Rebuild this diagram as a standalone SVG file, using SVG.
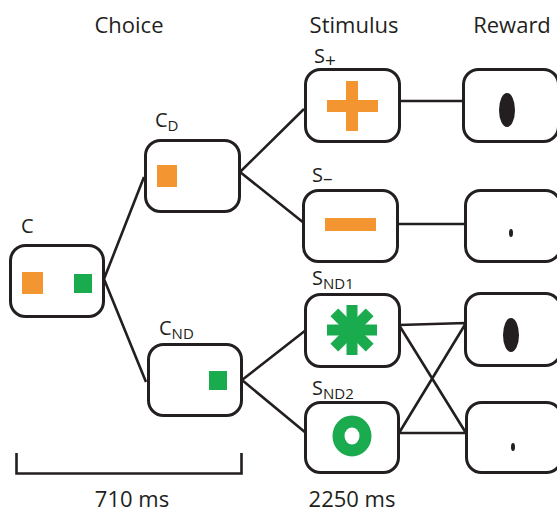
<svg xmlns="http://www.w3.org/2000/svg" width="557" height="513" viewBox="0 0 557 513">
<style>
.box{fill:#fff;stroke:#231f20;stroke-width:3}
.ln{stroke:#231f20;stroke-width:2.6;fill:none}
.hd{font-family:"Open Sans","Liberation Sans",sans-serif;font-size:22px;fill:#231f20}
.lb{font-family:"Open Sans","Liberation Sans",sans-serif;font-size:20px;fill:#231f20}
.sb{font-size:15px}
.sg{font-size:19px}
.or{fill:#f39530}
.gr{fill:#1bab4f}
.dk{fill:#231f20}
</style>
<rect width="557" height="513" fill="#fff"/>
<g id="headers">
<text class="hd" x="129" y="33" text-anchor="middle">Choice</text>
<text class="hd" x="354" y="33" text-anchor="middle">Stimulus</text>
<text class="hd" x="512" y="33" text-anchor="middle">Reward</text>
</g>
<g id="connectors">
<path class="ln" d="M104,279 L144,177 M104,279 L146,382"/>
<path class="ln" d="M240,172 L304,109 M240,172 L304,223"/>
<path class="ln" d="M242,380 L306,330 M242,380 L306,433"/>
<path class="ln" d="M399,101 L465,101 M398,224 L466,224"/>
<path class="ln" d="M399,325 L466,323 M399,325 L466,433 M399,433 L466,323 M399,433 L466,433"/>
</g>
<g id="C">
<rect class="box" x="10.5" y="245.5" width="93" height="71" rx="15"/>
<rect class="or" x="22" y="272" width="21" height="22"/>
<rect class="gr" x="74" y="274" width="18" height="19"/>
<text class="lb" x="21" y="233">C</text>
</g>
<g id="CD">
<rect class="box" x="145.5" y="140.5" width="94" height="71" rx="15"/>
<rect class="or" x="157" y="165" width="20" height="22"/>
<text class="lb" x="155" y="127">C<tspan class="sb" dy="4">D</tspan></text>
</g>
<g id="CND">
<rect class="box" x="148.5" y="344.5" width="93" height="71" rx="15"/>
<rect class="gr" x="209" y="371" width="18" height="19"/>
<text class="lb" x="159" y="335">C<tspan class="sb" dy="4">ND</tspan></text>
</g>
<g id="Splus">
<rect class="box" x="305.5" y="69.5" width="94" height="72" rx="15"/>
<rect class="or" x="327" y="100" width="51" height="12"/>
<rect class="or" x="346" y="81" width="12" height="50"/>
<text class="lb" x="314" y="63">S<tspan class="sg" dy="4">+</tspan></text>
</g>
<g id="Sminus">
<rect class="box" x="303.5" y="190.5" width="94" height="71" rx="15"/>
<rect class="or" x="325" y="218" width="51" height="13"/>
<text class="lb" x="312" y="182">S<tspan class="sg" dy="3">–</tspan></text>
</g>
<g id="SND1">
<rect class="box" x="305.5" y="294.5" width="94" height="72" rx="15"/>
<g class="gr" transform="translate(352,330)">
<rect x="-25" y="-5.5" width="50" height="11"/>
<rect x="-5.5" y="-25" width="11" height="50"/>
<rect x="-25" y="-5.5" width="50" height="11" transform="rotate(45)"/>
<rect x="-25" y="-5.5" width="50" height="11" transform="rotate(-45)"/>
</g>
<text class="lb" x="312" y="285">S<tspan class="sb" dy="4">ND1</tspan></text>
</g>
<g id="SND2">
<rect class="box" x="305.5" y="402.5" width="93" height="70" rx="15"/>
<ellipse cx="352" cy="436" rx="13.5" ry="14.5" fill="none" stroke="#1bab4f" stroke-width="12"/>
<text class="lb" x="312" y="395">S<tspan class="sb" dy="4">ND2</tspan></text>
</g>
<g id="R1">
<rect class="box" x="463.5" y="69.5" width="95" height="72" rx="15"/>
<ellipse class="dk" cx="507" cy="110" rx="8" ry="17"/>
</g>
<g id="R2">
<rect class="box" x="465.5" y="190.5" width="95" height="71" rx="15"/>
<ellipse class="dk" cx="511" cy="233" rx="2" ry="4"/>
</g>
<g id="R3">
<rect class="box" x="465.5" y="293.5" width="95" height="72" rx="15"/>
<ellipse class="dk" cx="511" cy="335" rx="8" ry="17"/>
</g>
<g id="R4">
<rect class="box" x="466.5" y="402.5" width="95" height="70" rx="15"/>
<ellipse class="dk" cx="513" cy="447" rx="2" ry="4"/>
</g>
<g id="timing">
<path class="ln" d="M16.5,453 L16.5,473.5 L241.5,473.5 L241.5,453"/>
<text class="hd" x="132" y="507" text-anchor="middle">710 ms</text>
<text class="hd" x="352" y="507" text-anchor="middle">2250 ms</text>
</g>
</svg>
